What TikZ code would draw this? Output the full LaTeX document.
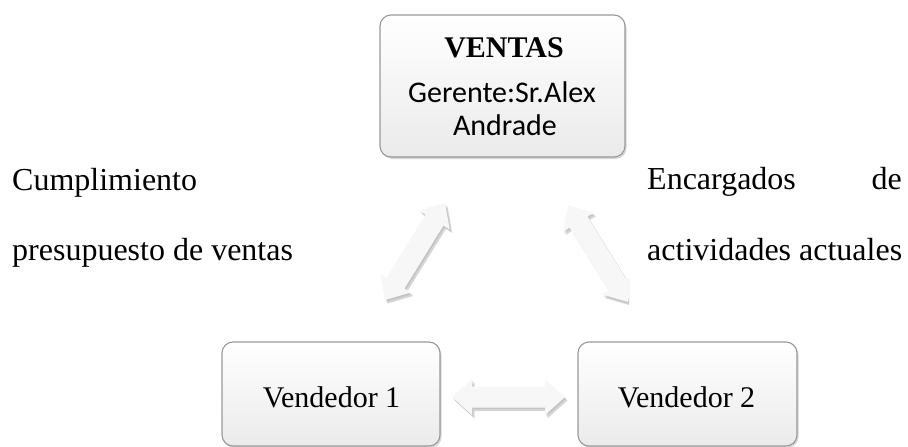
\documentclass[tikz,border=0pt]{standalone}
\usepackage{fontspec}
\setmainfont{Liberation Serif}
\newfontfamily\calibrifont{Carlito}
\usetikzlibrary{calc,shadows}

\tikzset{
  salebox/.style={draw=black!40, line width=1.1pt, rounded corners=11pt,
    top color=white, bottom color=black!8,
    drop shadow={shadow xshift=1.5pt, shadow yshift=-2pt, opacity=.35, fill=black!45}},
  bodytext/.style={font=\fontsize{32}{38}\selectfont, inner sep=0pt, anchor=base west},
  boxtext/.style={font=\fontsize{30}{36}\selectfont, inner sep=0pt, anchor=base},
  arrowfill/.style={fill=black!3},
  arrowshadow/.style={fill=black!45, opacity=.35},
}

% outline of a block double arrow between two named points
\newcommand\arrowoutline[2]{%
  (#1) -- ($(#1)!20pt!(#2)!18pt!90:(#2)$) -- ($(#1)!20pt!(#2)!10.5pt!90:(#2)$)
  -- ($(#2)!20pt!(#1)!10.5pt!-90:(#1)$) -- ($(#2)!20pt!(#1)!18pt!-90:(#1)$)
  -- (#2) -- ($(#2)!20pt!(#1)!18pt!90:(#1)$) -- ($(#2)!20pt!(#1)!10.5pt!90:(#1)$)
  -- ($(#1)!20pt!(#2)!10.5pt!-90:(#2)$) -- ($(#1)!20pt!(#2)!18pt!-90:(#2)$) -- cycle}

\newcommand\blockarrow[2]{%
  \begin{scope}[transform canvas={shift={(2.5pt,-3.5pt)}}]
    \fill[arrowshadow] \arrowoutline{#1}{#2};
  \end{scope}
  \begin{scope}[transform canvas={shift={(1.2pt,-1.8pt)}}]
    \fill[arrowshadow, opacity=.25] \arrowoutline{#1}{#2};
  \end{scope}
  \fill[arrowfill] \arrowoutline{#1}{#2};
}

\begin{document}
\begin{tikzpicture}[x=1pt, y=-1pt]
  \useasboundingbox (0,0) rectangle (908,447);

  % boxes
  \node[salebox, minimum width=245pt, minimum height=142pt] (ventas) at (502.5,86) {};
  \node[salebox, minimum width=218pt, minimum height=104pt] (vend1) at (331,394) {};
  \node[salebox, minimum width=219pt, minimum height=104pt] (vend2) at (687.5,394) {};

  % box labels
  \node[boxtext, font=\bfseries\fontsize{30}{36}\selectfont] (ventasT) at (504,57) {VENTAS};
  \node[boxtext, font=\calibrifont\fontsize{30}{36}\selectfont] (gerente) at (502,102) {Gerente:Sr.Alex};
  \node[boxtext, font=\calibrifont\fontsize{30}{36}\selectfont] (andrade) at (505,135) {Andrade};
  \node[boxtext] (vend1T) at (331.5,407) {Vendedor 1};
  \node[boxtext] (vend2T) at (686.5,407) {Vendedor 2};

  % arrow end points
  \coordinate (la) at (385,300);
  \coordinate (lb) at (445,203);
  \coordinate (ra) at (568,205);
  \coordinate (rb) at (628,302);
  \coordinate (ha) at (452,397);
  \coordinate (hb) at (565,397);

  \blockarrow{la}{lb}
  \begin{scope}
    \clip (0,0) rectangle (629,447);
    \blockarrow{ra}{rb}
  \end{scope}
  \blockarrow{ha}{hb}

  % side texts
  \node[bodytext] (cump) at (12,190) {Cumplimiento};
  \node[bodytext] (presu) at (12,260) {presupuesto de ventas};
  \node[bodytext] (encar) at (647,189) {Encargados};
  \node[bodytext, anchor=base east] (encde) at (902,189) {de};
  \node[bodytext] (activ) at (647,260) {actividades actuales};
\end{tikzpicture}
\end{document}
